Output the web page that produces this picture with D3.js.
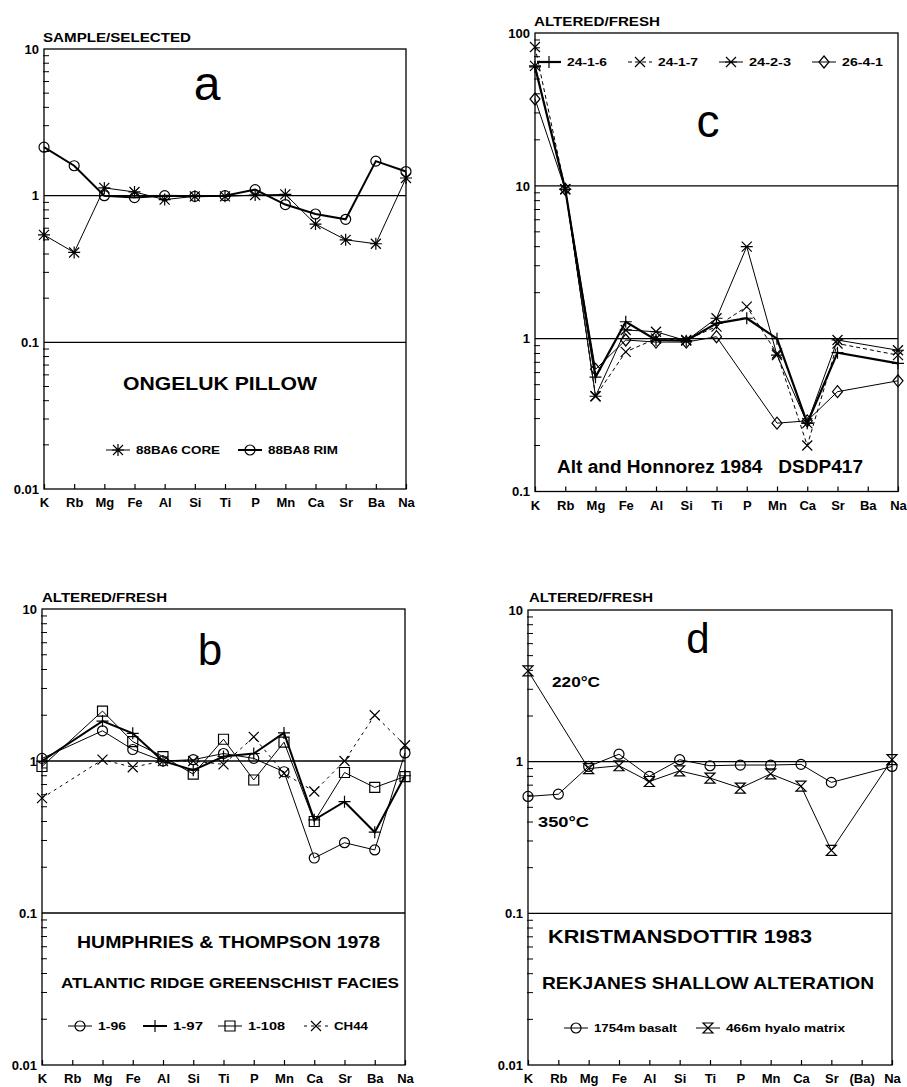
<!DOCTYPE html>
<html><head><meta charset="utf-8">
<script src="https://cdn.jsdelivr.net/npm/d3@7"></script>
<style>
body{margin:0;background:#fff}
svg{display:block}
text{font-family:"Liberation Sans",Arial,Helvetica,sans-serif;fill:#000}
</style>
</head><body>
<svg id="chart" width="907" height="1087"></svg>
<script>
// ---------------- DATA ----------------
const elements = ["K","Rb","Mg","Fe","Al","Si","Ti","P","Mn","Ca","Sr","Ba","Na"];
const elementLabels = ["K","Rb","Mg","Fe","Al","Si","Ti","P","Mn","Ca","Sr","Ba","Na"];
const elementLabelsD = ["K","Rb","Mg","Fe","Al","Si","Ti","P","Mn","Ca","Sr","(Ba)","Na"];
const yTicks3 = [0.01, 0.1, 1, 10];
const yTickLabels3 = ["0.01", "0.1", "1", "10"];
const yTicksC = [0.1, 1, 10, 100];
const yTickLabelsC = ["0.1", "1", "10", "100"];

// panel a : ONGELUK PILLOW
const core88BA6 = [0.54, 0.41, 1.13, 1.06, 0.94, 0.99, 0.99, 1.01, 1.02, 0.64, 0.50, 0.47, 1.32];
const rim88BA8  = [2.14, 1.60, 1.00, 0.97, 1.00, 0.99, 1.00, 1.10, 0.87, 0.75, 0.69, 1.72, 1.46];

// panel b : HUMPHRIES & THOMPSON 1978
const h1_96  = [1.04, null, 1.58, 1.19, 1.00, 1.02, 1.12, 1.04, 0.85, 0.23, 0.29, 0.26, 1.13];
const h1_97  = [1.00, null, 1.83, 1.52, 1.00, 0.87, 1.07, 1.12, 1.53, 0.41, 0.54, 0.34, 0.80];
const h1_108 = [0.92, null, 2.13, 1.34, 1.07, 0.82, 1.39, 0.75, 1.33, 0.40, 0.84, 0.67, 0.79];
const hCH44  = [0.57, null, 1.02, 0.91, 1.00, 1.00, 0.95, 1.44, 0.83, 0.63, 1.00, 2.00, 1.27];

// panel c : Alt and Honnorez 1984 DSDP417
const c24_1_6 = [60, 9.5, 0.56, 1.29, 0.98, 0.97, 1.26, 1.36, 1.00, 0.28, 0.81, null, 0.69];
const c24_1_7 = [81, 9.5, 0.42, 0.82, 1.00, 0.98, 1.20, 1.62, 0.80, 0.20, 0.93, null, 0.78];
const c24_2_3 = [61, 9.5, 0.42, 1.14, 1.11, 0.97, 1.36, 4.00, 0.78, 0.28, 0.98, null, 0.84];
const c26_4_1 = [37, 9.5, 0.63, 0.98, 0.95, 0.95, 1.03, null, 0.28, 0.29, 0.45, null, 0.53];

// panel d : KRISTMANSDOTTIR 1983
const k1754basalt = [0.59, 0.61, 0.93, 1.12, 0.80, 1.03, 0.94, 0.95, 0.95, 0.96, 0.73, null, 0.93];
const k466hyalo   = [3.97, null, 0.90, 0.94, 0.74, 0.87, 0.78, 0.67, 0.83, 0.69, 0.26, null, 1.03];

// ---------------- SYMBOLS ----------------
const SYM = {
  circle:   "M5,0A5,5 0 1,1 -5,0A5,5 0 1,1 5,0Z",
  plus:     "M-6,0H6M0,-6V6",
  cross:    "M-5,-5L5,5M-5,5L5,-5",
  asterisk: "M-5,-5L5,5M-5,5L5,-5M0,-6V6M-6,0H6",
  starx:    "M-5,-5L5,5M-5,5L5,-5M-6,0H6",
  diamond:  "M0,-6L5,0L0,6L-5,0Z",
  square:   "M-5,-5H5V5H-5Z",
  hourglass:"M-5,-5H5L-5,5H5Z"
};

const svg = d3.select("#chart");

function drawPanel(p) {
  const g = svg.append("g");
  const x = d3.scalePoint().domain(elements).range([p.x0, p.x1]);
  const y = d3.scaleLog().domain(p.domain).range([p.yBot, p.yTop]);

  g.append("rect").attr("x", p.x0).attr("y", p.yTop)
    .attr("width", p.x1 - p.x0).attr("height", p.yBot - p.yTop)
    .attr("fill", "none").attr("stroke", "#000").attr("stroke-width", 1.3);

  p.ticks.slice(1, -1).forEach(v => {
    g.append("line").attr("x1", p.x0).attr("x2", p.x1)
      .attr("y1", y(v)).attr("y2", y(v))
      .attr("stroke", "#000").attr("stroke-width", 1.3);
  });

  const minors = [];
  for (let i = 0; i < p.ticks.length - 1; i++) {
    for (let m = 2; m <= 9; m++) minors.push(p.ticks[i] * m);
  }
  g.selectAll(".minor").data(minors).enter().append("line")
    .attr("x1", p.x0 - 1).attr("x2", p.x0 + 5)
    .attr("y1", d => y(d)).attr("y2", d => y(d))
    .attr("stroke", "#000").attr("stroke-width", 1);

  const yAxis = d3.axisLeft(y).tickValues(p.ticks).tickSize(0).tickPadding(5)
    .tickFormat((d, i) => p.tickLabels[i]);
  const ya = g.append("g").attr("transform", `translate(${p.x0},0)`).call(yAxis);
  ya.select(".domain").remove();
  ya.selectAll("text").attr("font-size", 13).style("font-weight", "bold")
    .attr("font-family", '"Liberation Sans",Arial,sans-serif').attr("fill", "#000");

  const xAxis = d3.axisBottom(x).tickSize(-5).tickPadding(9)
    .tickFormat((d, i) => p.xLabels[i]);
  const xa = g.append("g").attr("transform", `translate(0,${p.yBot})`).call(xAxis);
  xa.select(".domain").remove();
  xa.selectAll("line").attr("stroke", "#000").attr("stroke-width", 1.2);
  xa.selectAll("text").attr("font-size", 13).style("font-weight", "bold")
    .attr("font-family", '"Liberation Sans",Arial,sans-serif').attr("fill", "#000");

  p.series.forEach(s => {
    const pts = elements.map((e, i) => ({e, v: s.values[i]})).filter(d => d.v != null);
    const line = d3.line().x(d => x(d.e)).y(d => y(d.v));
    g.append("path").attr("d", line(pts)).attr("fill", "none")
      .attr("stroke", "#000").attr("stroke-width", s.width)
      .attr("stroke-dasharray", s.dash || null);
    g.selectAll(null).data(pts).enter().append("path")
      .attr("d", SYM[s.sym])
      .attr("transform", d => `translate(${x(d.e)},${y(d.v)})`)
      .attr("fill", "none").attr("stroke", "#000").attr("stroke-width", 1.2);
  });

  g.append("text").attr("x", p.titleX).attr("y", p.titleY).attr("font-size", 13)
    .style("font-weight", "bold")
    .attr("textLength", p.titleLen).attr("lengthAdjust", "spacingAndGlyphs").text(p.title);

  g.append("text").attr("x", p.letterX).attr("y", p.letterY).attr("text-anchor", "middle")
    .attr("font-size", p.letterSize).style("font-weight", "normal").text(p.letter);

  p.captions.forEach(c => {
    const t = g.append("text").attr("x", c.x).attr("y", c.y).attr("font-size", c.size)
      .style("font-weight", "bold").style("white-space", "pre").text(c.text);
    if (c.len) t.attr("textLength", c.len).attr("lengthAdjust", "spacingAndGlyphs");
  });

  p.legend.forEach(l => {
    const s = p.series[l.i];
    g.append("line").attr("x1", l.x).attr("x2", l.x + 24).attr("y1", p.legendY).attr("y2", p.legendY)
      .attr("stroke", "#000").attr("stroke-width", s.width).attr("stroke-dasharray", s.dash || null);
    g.append("path").attr("d", SYM[s.sym]).attr("transform", `translate(${l.x + 12},${p.legendY})`)
      .attr("fill", "none").attr("stroke", "#000").attr("stroke-width", 1.2);
    g.append("text").attr("x", l.x + 30).attr("y", p.legendY + 4).attr("font-size", 11)
      .style("font-weight", "bold")
      .attr("textLength", l.len).attr("lengthAdjust", "spacingAndGlyphs").text(s.name);
  });
}

drawPanel({
  x0: 44, x1: 406, yTop: 49, yBot: 489, domain: [0.01, 10],
  ticks: yTicks3, tickLabels: yTickLabels3, xLabels: elementLabels,
  title: "SAMPLE/SELECTED", titleX: 43, titleY: 42, titleLen: 148,
  letter: "a", letterX: 207, letterY: 100, letterSize: 48,
  series: [
    {name: "88BA6 CORE", values: core88BA6, sym: "asterisk", width: 1},
    {name: "88BA8 RIM", values: rim88BA8, sym: "circle", width: 2}
  ],
  captions: [{text: "ONGELUK PILLOW", x: 123, y: 390, size: 18, len: 194}],
  legendY: 450,
  legend: [{i: 0, x: 106, len: 84}, {i: 1, x: 238, len: 70}]
});

drawPanel({
  x0: 535, x1: 898, yTop: 33, yBot: 491.5, domain: [0.1, 100],
  ticks: yTicksC, tickLabels: yTickLabelsC, xLabels: elementLabels,
  title: "ALTERED/FRESH", titleX: 534, titleY: 26, titleLen: 126,
  letter: "c", letterX: 708, letterY: 137, letterSize: 46,
  series: [
    {name: "24-1-6", values: c24_1_6, sym: "plus", width: 2.2},
    {name: "24-1-7", values: c24_1_7, sym: "cross", width: 1, dash: "4,3"},
    {name: "24-2-3", values: c24_2_3, sym: "starx", width: 1},
    {name: "26-4-1", values: c26_4_1, sym: "diamond", width: 1}
  ],
  captions: [{text: "Alt and Honnorez 1984   DSDP417", x: 557, y: 473, size: 18, len: 306}],
  legendY: 62,
  legend: [{i: 0, x: 537, len: 40}, {i: 1, x: 628, len: 40}, {i: 2, x: 719, len: 42}, {i: 3, x: 812, len: 41}]
});

drawPanel({
  x0: 42, x1: 405, yTop: 609, yBot: 1065, domain: [0.01, 10],
  ticks: yTicks3, tickLabels: yTickLabels3, xLabels: elementLabels,
  title: "ALTERED/FRESH", titleX: 42, titleY: 602, titleLen: 125,
  letter: "b", letterX: 210, letterY: 665, letterSize: 44,
  series: [
    {name: "1-96", values: h1_96, sym: "circle", width: 1},
    {name: "1-97", values: h1_97, sym: "plus", width: 2},
    {name: "1-108", values: h1_108, sym: "square", width: 1},
    {name: "CH44", values: hCH44, sym: "cross", width: 1, dash: "3,4"}
  ],
  captions: [
    {text: "HUMPHRIES & THOMPSON 1978", x: 77, y: 948, size: 17, len: 303},
    {text: "ATLANTIC RIDGE GREENSCHIST FACIES", x: 61, y: 988, size: 15, len: 338}
  ],
  legendY: 1026,
  legend: [{i: 0, x: 68, len: 28}, {i: 1, x: 143, len: 30}, {i: 2, x: 218, len: 37}, {i: 3, x: 304, len: 34}]
});

drawPanel({
  x0: 528, x1: 892, yTop: 610, yBot: 1065, domain: [0.01, 10],
  ticks: yTicks3, tickLabels: yTickLabels3, xLabels: elementLabelsD,
  title: "ALTERED/FRESH", titleX: 529, titleY: 602, titleLen: 124,
  letter: "d", letterX: 698, letterY: 653, letterSize: 42,
  series: [
    {name: "1754m basalt", values: k1754basalt, sym: "circle", width: 1},
    {name: "466m hyalo matrix", values: k466hyalo, sym: "hourglass", width: 1}
  ],
  captions: [
    {text: "220°C", x: 552, y: 687, size: 15, len: 48},
    {text: "350°C", x: 538, y: 827, size: 15, len: 51},
    {text: "KRISTMANSDOTTIR 1983", x: 548, y: 943, size: 19, len: 264},
    {text: "REKJANES SHALLOW ALTERATION", x: 542, y: 989, size: 17, len: 332}
  ],
  legendY: 1028,
  legend: [{i: 0, x: 564, len: 83}, {i: 1, x: 696, len: 119}]
});
</script>
</body></html>
